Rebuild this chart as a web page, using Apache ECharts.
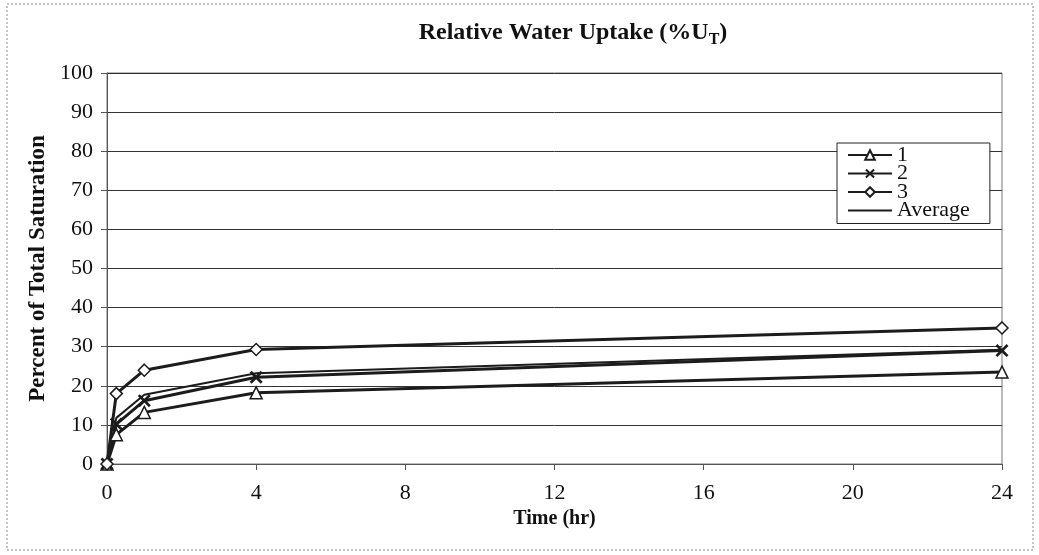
<!DOCTYPE html>
<html>
<head>
<meta charset="utf-8">
<script src="https://cdn.jsdelivr.net/npm/echarts@6/dist/echarts.min.js"></script>
<style>html,body{margin:0;padding:0;background:#fff}#c{width:1039px;height:555px}</style>
</head>
<body>
<div id="c"></div>
<script>
var times = [0, 0.25, 1, 4, 24];
var s1 = [0, 7.5, 13.2, 18.2, 23.5];
var s2 = [0, 10.2, 16.2, 22.2, 29.0];
var s3 = [0, 18.0, 24.0, 29.3, 34.8];
var avg = [0, 11.8, 17.7, 23.2, 29.2];
var xTicks = [0, 4, 8, 12, 16, 20, 24];
var yTicks = [0, 10, 20, 30, 40, 50, 60, 70, 80, 90, 100];

function pairs(v){ return times.map(function(t,i){ return [t, v[i]]; }); }
var font = 'Liberation Serif';
var lineCol = '#1c1c1c';
var xSym = 'path://M0,1.5L1.5,0L5,3.5L8.5,0L10,1.5L6.5,5L10,8.5L8.5,10L5,6.5L1.5,10L0,8.5L3.5,5Z';

var chart = echarts.init(document.getElementById('c'));
chart.setOption({
  backgroundColor: '#fff',
  animation: false,
  graphic: [{
    type: 'rect', shape: {x: 7, y: 4, width: 1026, height: 546},
    style: {fill: 'none', stroke: '#888', lineWidth: 1, lineDash: [2, 2]}, z: 0
  }],
  title: {
    text: '{a|Relative Water Uptake (%U}{b|T}{a|)}',
    left: 568, top: 13, textAlign: 'center',
    textStyle: {
      rich: {
        a: {fontFamily: font, fontWeight: 'bold', fontSize: 24, color: '#111'},
        b: {fontFamily: font, fontWeight: 'bold', fontSize: 16, color: '#111', verticalAlign: 'bottom', padding: [14, 0, 0, 0]}
      }
    }
  },
  legend: {
    orient: 'vertical', left: 837, top: 143,
    padding: [1, 20, 2, 10],
    itemGap: -3.5,
    itemWidth: 44, itemHeight: 12,
    backgroundColor: '#fff',
    borderColor: '#222', borderWidth: 1,
    textStyle: {fontFamily: font, fontSize: 22, color: '#111'},
    data: ['1', '2', '3', {name: 'Average', itemStyle: {opacity: 0}}]
  },
  grid: {left: 107, right: 37, top: 73, bottom: 91, show: true, borderColor: '#777', borderWidth: 1},
  xAxis: {
    type: 'value', min: 0, max: 24, interval: 4,
    name: 'Time (hr)', nameLocation: 'middle', nameGap: 42,
    nameTextStyle: {fontFamily: font, fontWeight: 'bold', fontSize: 20, color: '#111'},
    axisLine: {lineStyle: {color: '#555', width: 1}},
    axisTick: {show: true, length: 6, lineStyle: {color: '#555'}},
    axisLabel: {fontFamily: font, fontSize: 22, color: '#111', margin: 18,
      formatter: function(v){ return xTicks.indexOf(v) >= 0 ? String(v) : ''; }},
    splitLine: {show: false}
  },
  yAxis: {
    type: 'value', min: 0, max: 100, interval: 10,
    name: 'Percent of Total Saturation', nameLocation: 'middle', nameGap: 55,
    nameTextStyle: {fontFamily: font, fontWeight: 'bold', fontSize: 23, color: '#111'},
    axisLine: {show: true, lineStyle: {color: '#555', width: 1}},
    axisTick: {show: true, length: 6, lineStyle: {color: '#555'}},
    axisLabel: {fontFamily: font, fontSize: 22, color: '#111', margin: 14,
      formatter: function(v){ return yTicks.indexOf(v) >= 0 ? String(v) : ''; }},
    splitLine: {show: true, lineStyle: {color: '#333', width: 1}}
  },
  series: [
    {name: '1', type: 'line', data: pairs(s1), symbol: 'triangle', symbolSize: 12,
      lineStyle: {color: lineCol, width: 3}, itemStyle: {color: '#fff', borderColor: lineCol, borderWidth: 1.5}, z: 3},
    {name: '2', type: 'line', data: pairs(s2), symbol: xSym, symbolSize: 13,
      lineStyle: {color: lineCol, width: 3}, itemStyle: {color: lineCol, borderColor: lineCol, borderWidth: 0}, z: 3},
    {name: '3', type: 'line', data: pairs(s3), symbol: 'diamond', symbolSize: 12,
      lineStyle: {color: lineCol, width: 3}, itemStyle: {color: '#fff', borderColor: lineCol, borderWidth: 1.5}, z: 3},
    {name: 'Average', type: 'line', data: pairs(avg), symbol: 'none', showSymbol: false,
      lineStyle: {color: lineCol, width: 2}, itemStyle: {color: lineCol}, z: 2}
  ]
});
</script>
</body>
</html>
